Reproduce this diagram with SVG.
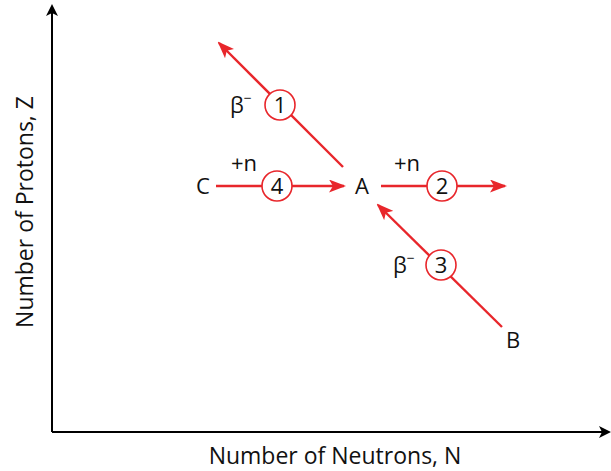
<svg xmlns="http://www.w3.org/2000/svg" width="611" height="471" viewBox="0 0 611 471">
<style>
text{font-family:"Open Sans","Liberation Sans",sans-serif;fill:#111;}
.lbl{font-size:22px;}
.ax{font-size:23px;}
.num{font-size:22px;text-anchor:middle;}
.arr{stroke:#e8262b;stroke-width:2.4;fill:none;}
.circ{stroke:#e8262b;stroke-width:1.6;fill:#fff;}
.axis{stroke:#000;stroke-width:2;fill:none;}
</style>
<defs>
<marker id="ra" markerWidth="17" markerHeight="13" refX="15" refY="6.5" orient="auto" markerUnits="userSpaceOnUse">
<path d="M0,0 L17,6.5 L0,13 L4,6.5 Z" fill="#e8262b"/>
</marker>
<marker id="ka" markerWidth="12" markerHeight="12" refX="10" refY="6" orient="auto" markerUnits="userSpaceOnUse">
<path d="M0,0 L12,6 L0,12 L3,6 Z" fill="#000"/>
</marker>
</defs>
<g id="axes">
<line class="axis" x1="52" y1="432" x2="52" y2="6" marker-end="url(#ka)"/>
<line class="axis" x1="52" y1="432" x2="609" y2="432" marker-end="url(#ka)"/>
<text class="ax" x="335" y="464" text-anchor="middle">Number of Neutrons, N</text>
<text class="ax" transform="translate(33,212) rotate(-90)" text-anchor="middle">Number of Protons, Z</text>
</g>
<g id="connectors">
<line class="arr" x1="343" y1="167" x2="219" y2="43" marker-end="url(#ra)"/>
<line class="arr" x1="502" y1="327" x2="378" y2="205" marker-end="url(#ra)"/>
<line class="arr" x1="216" y1="186" x2="344" y2="186" marker-end="url(#ra)"/>
<line class="arr" x1="381" y1="186" x2="505" y2="186" marker-end="url(#ra)"/>
</g>
<g id="node-A"><text class="lbl" x="362" y="194" text-anchor="middle">A</text></g>
<g id="node-B"><text class="lbl" x="513" y="348" text-anchor="middle">B</text></g>
<g id="node-C"><text class="lbl" x="203" y="194" text-anchor="middle">C</text></g>
<g id="step-1">
<circle class="circ" cx="280" cy="105" r="15"/>
<text class="num" x="280" y="113">1</text>
<text class="lbl" x="230" y="113">β<tspan font-size="14" dy="-10">−</tspan></text>
</g>
<g id="step-2">
<circle class="circ" cx="442" cy="186" r="15"/>
<text class="num" x="442" y="194">2</text>
<text class="lbl" x="394" y="171">+n</text>
</g>
<g id="step-3">
<circle class="circ" cx="441" cy="265" r="15"/>
<text class="num" x="441" y="273">3</text>
<text class="lbl" x="393" y="273">β<tspan font-size="14" dy="-10">−</tspan></text>
</g>
<g id="step-4">
<circle class="circ" cx="277" cy="186" r="15"/>
<text class="num" x="277" y="194">4</text>
<text class="lbl" x="231" y="171">+n</text>
</g>
</svg>
